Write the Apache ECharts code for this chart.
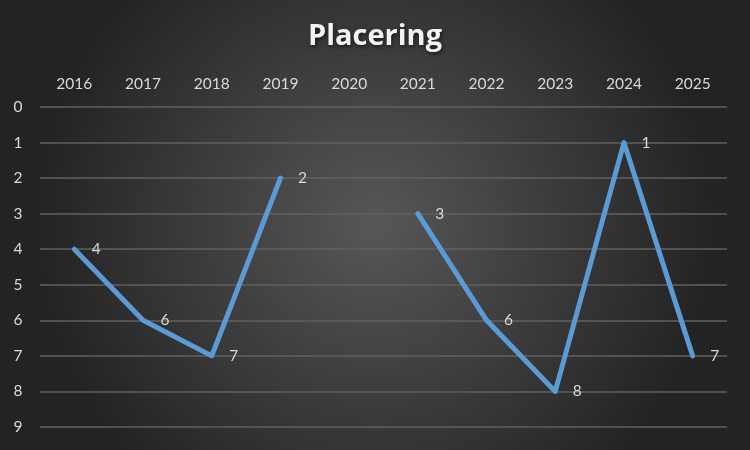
<!DOCTYPE html>
<html>
<head>
<meta charset="utf-8">
<script src="https://cdn.jsdelivr.net/npm/echarts@6/dist/echarts.min.js"></script>
<style>
html,body{margin:0;padding:0;background:#333;}
#chart{width:750px;height:450px;}
</style>
</head>
<body>
<div id="chart"></div>
<script>
const chartTitle = 'Placering';
const years = ['2016','2017','2018','2019','2020','2021','2022','2023','2024','2025'];
const placering = [4, 6, 7, 2, null, 3, 6, 8, 1, 7];
const yTicks = { min: 0, max: 9, interval: 1 };

const chart = echarts.init(document.getElementById('chart'));
chart.setOption({
  backgroundColor: {
    type: 'radial', x: 0.5, y: 0.5, r: 0.75,
    colorStops: [
      { offset: 0, color: '#575757' },
      { offset: 1, color: '#232323' }
    ]
  },
  animation: false,
  title: {
    text: chartTitle,
    left: 'center',
    top: 17,
    textStyle: {
      color: '#f2f2f2',
      fontFamily: 'Open Sans',
      fontWeight: 'bold',
      fontSize: 29,
      textShadowColor: 'rgba(0,0,0,0.6)',
      textShadowBlur: 4,
      textShadowOffsetX: 1,
      textShadowOffsetY: 2
    }
  },
  grid: { left: 40, right: 23, top: 107, bottom: 23 },
  xAxis: {
    type: 'category',
    data: years,
    position: 'top',
    boundaryGap: true,
    axisLine: { show: false },
    axisTick: { show: false },
    axisLabel: { color: '#d9d9d9', fontFamily: 'Lato', fontSize: 15.5, margin: 15 }
  },
  yAxis: {
    type: 'value',
    inverse: true,
    min: yTicks.min, max: yTicks.max, interval: yTicks.interval,
    axisLine: { show: false },
    axisTick: { show: false },
    axisLabel: { color: '#d9d9d9', fontFamily: 'Lato', fontSize: 15.5, margin: 22, align: 'center' },
    splitLine: { lineStyle: { color: '#606060', width: 1.5 } }
  },
  series: [{
    type: 'line',
    data: placering,
    connectNulls: false,
    symbol: 'circle',
    symbolSize: 1,
    showSymbol: true,
    itemStyle: { color: 'rgba(0,0,0,0)' },
    lineStyle: { color: '#5b9bd5', width: 5, cap: 'round', join: 'round' },
    label: {
      show: true,
      position: 'right',
      distance: 17,
      color: '#d9d9d9',
      fontFamily: 'Lato',
      fontSize: 15.5
    }
  }]
});
</script>
</body>
</html>
